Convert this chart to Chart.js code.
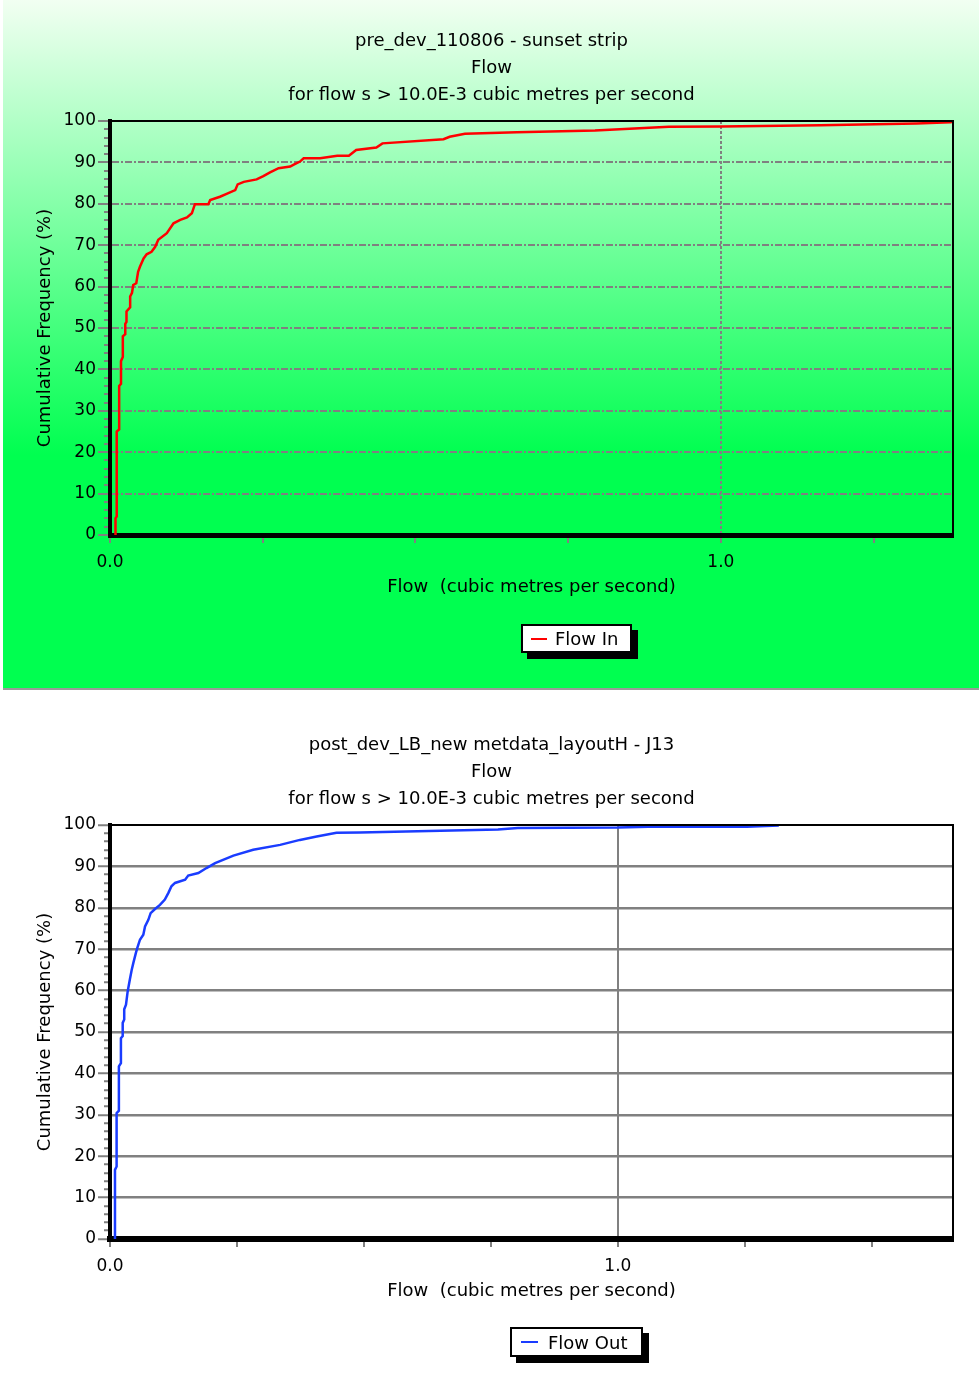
<!DOCTYPE html>
<html>
<head>
<meta charset="utf-8">
<script src="https://cdn.jsdelivr.net/npm/chart.js@4.4.1/dist/chart.umd.min.js"></script>
<style>
  body { margin: 0; width: 979px; height: 1390px; background: #fff; position: relative; overflow: hidden; font-family: 'DejaVu Sans'; }
  #panelIn { position: absolute; left: 3px; top: 0; width: 976px; height: 688px;
    background: linear-gradient(#f2fff2 0px, #00ff50 455px, #00ff50 688px); border-bottom: 2px solid #9a9a9a; }
  canvas { position: absolute; left: 0; }
  .legend { position: absolute; box-sizing: border-box; border: 2px solid #000; background: #fff;
    box-shadow: 6px 6px 0 #000; font-size: 18px; color: #000; display: flex; align-items: center; }
  .swatch { display: block; height: 2px; flex: none; }
</style>
</head>
<body>
<div id="panelIn"></div>
<canvas id="chartIn" width="979" height="688" style="top:0"></canvas>
<canvas id="chartOut" width="979" height="686" style="top:704px"></canvas>

<div class="legend" style="left:521px;top:624px;width:111px;height:29px"><span class="swatch" style="width:16px;background:#ff0000;margin:0 8px 0 8px"></span><span>Flow In</span></div>
<div class="legend" style="left:510px;top:1327px;width:133px;height:30px"><span class="swatch" style="width:17px;background:#1a3cff;margin:0 10px 0 9px"></span><span>Flow Out</span></div>

<script>
// pre development - flow in (cubic metres per second vs cumulative %)
const flowIn = [0.009, 0.009, 0.011, 0.011, 0.015, 0.015, 0.018, 0.018, 0.021, 0.021, 0.025, 0.025,
  0.027, 0.027, 0.033, 0.033, 0.036, 0.038, 0.043, 0.046, 0.049, 0.055, 0.060, 0.068, 0.074, 0.079,
  0.093, 0.104, 0.115, 0.126, 0.134, 0.139, 0.161, 0.164, 0.180, 0.189, 0.205, 0.209, 0.219, 0.240,
  0.251, 0.262, 0.276, 0.295, 0.300, 0.311, 0.317, 0.344, 0.372, 0.391, 0.403, 0.436, 0.446, 0.546,
  0.556, 0.581, 0.666, 0.794, 0.915, 1.0, 1.163, 1.32, 1.376, 1.38];
const freqIn = [0, 4, 4.5, 25, 25.5, 36, 36.5, 42, 43, 48, 48.5, 51,
  51.5, 54, 55, 57.6, 58.5, 60.4, 60.8, 63.6, 64.8, 66.8, 67.8, 68.4, 69.6, 71.3,
  72.9, 75.3, 76.1, 76.7, 77.7, 79.9, 79.9, 80.9, 81.7, 82.3, 83.3, 84.7, 85.3, 85.9,
  86.7, 87.6, 88.6, 89.0, 89.4, 90.2, 91.0, 91.0, 91.6, 91.6, 93.0, 93.6, 94.6, 95.6,
  96.2, 96.9, 97.3, 97.7, 98.6, 98.7, 99.0, 99.4, 99.7, 99.8];

// post development - flow out
const flowOut = [0.0098, 0.0098, 0.013, 0.013, 0.0175, 0.0175, 0.0215, 0.0215, 0.025, 0.025, 0.028, 0.028,
  0.0315, 0.0348, 0.039, 0.0427, 0.046, 0.051, 0.0538, 0.059, 0.0656, 0.069, 0.0755, 0.080, 0.0886,
  0.0984, 0.108, 0.115, 0.121, 0.128, 0.148, 0.154, 0.174, 0.190, 0.207, 0.243, 0.282, 0.335, 0.374,
  0.407, 0.446, 0.492, 0.764, 0.803, 1.0, 1.06, 1.254, 1.317];
const freqOut = [0, 16.7, 17.5, 30.4, 31, 41.7, 42.5, 48.5, 49, 52.2, 53, 55.5,
  56.6, 59.8, 62.6, 65, 66.7, 69.1, 70.3, 72.3, 73.5, 75.5, 77.1, 78.7, 79.7,
  80.7, 82, 83.6, 85.2, 86, 86.8, 87.8, 88.4, 89.6, 90.8, 92.6, 94.0, 95.2, 96.4,
  97.2, 98.1, 98.2, 98.9, 99.3, 99.4, 99.6, 99.6, 99.9];

// axis tick labels (only these get a label)
const xLabelValues = [0, 1];
const xLabelText = ['0.0', '1.0'];
const yLabelValues = [0, 10, 20, 30, 40, 50, 60, 70, 80, 90, 100];

const titlesIn = ['pre_dev_110806 - sunset strip', 'Flow', 'for flow s > 10.0E-3 cubic metres per second'];
const titlesOut = ['post_dev_LB_new metdata_layoutH - J13', 'Flow', 'for flow s > 10.0E-3 cubic metres per second'];

const FONT = "'DejaVu Sans'";
const GREY = '#808080';

// thin black line on top and right of the plot area
const framePlugin = {
  id: 'frame',
  afterDraw(chart) {
    const {ctx, chartArea: a} = chart;
    ctx.save();
    ctx.strokeStyle = '#000';
    ctx.lineWidth = 2;
    ctx.beginPath();
    ctx.moveTo(a.left, a.top);
    ctx.lineTo(a.right, a.top);
    ctx.lineTo(a.right, a.bottom);
    ctx.stroke();
    ctx.restore();
  }
};

function isQuarter(v) {
  return Math.abs(v * 4 - Math.round(v * 4)) < 1e-6;
}

function makeChart(id, flows, freqs, titles, o) {
  const points = flows.map((f, i) => ({x: f, y: freqs[i]}));
  return new Chart(document.getElementById(id), {
    type: 'line',
    data: {
      datasets: [{
        data: points,
        borderColor: o.lineColor,
        borderWidth: 2.5,
        pointRadius: 0,
        tension: 0
      }]
    },
    options: {
      responsive: false,
      animation: false,
      devicePixelRatio: 1,
      layout: {padding: {left: 30, right: 26, top: 27.5, bottom: o.bottomPad}},
      plugins: {
        legend: {display: false},
        tooltip: {enabled: false},
        title: {
          display: true,
          text: titles,
          color: '#000',
          font: {family: FONT, size: 18, weight: 'normal', lineHeight: 1.5},
          padding: {top: 0, bottom: 12.5}
        }
      },
      scales: {
        x: {
          type: 'linear',
          min: 0,
          max: o.xMax,
          afterFit: s => { s.height = 63; },
          ticks: {
            stepSize: 0.25,
            autoSkip: false,
            maxRotation: 0,
            padding: 9,
            color: '#000',
            font: {family: FONT, size: 17},
            callback: v => {
              const k = xLabelValues.findIndex(t => Math.abs(t - v) < 1e-6);
              return k >= 0 ? xLabelText[k] : '';
            }
          },
          grid: {
            color: c => Math.abs(c.tick.value - 1) < 1e-6 ? GREY : 'transparent',
            lineWidth: 2,
            tickLength: 8,
            tickWidth: 2,
            tickColor: c => isQuarter(c.tick.value) ? GREY : 'transparent'
          },
          border: {color: '#000', width: o.xAxisWidth, dash: o.vDash},
          title: {
            display: true,
            text: 'Flow  (cubic metres per second)',
            color: '#000',
            font: {family: FONT, size: 18},
            padding: {top: 0, bottom: 0}
          }
        },
        y: {
          min: 0,
          max: 100,
          afterFit: s => { s.width = 80; },
          ticks: {
            stepSize: 2,
            autoSkip: false,
            padding: 2,
            color: '#000',
            font: {family: FONT, size: 17},
            callback: v => yLabelValues.includes(v) ? v : ''
          },
          grid: {
            color: c => (c.tick.value % 10 === 0 && c.tick.value > 0 && c.tick.value < 100) ? GREY : 'transparent',
            lineWidth: o.hWidth,
            tickLength: 12,
            tickWidth: 2,
            tickColor: GREY,
            tickBorderDash: c => c.tick.value % 10 === 0 ? [] : [0, 6, 4, 20]
          },
          border: {color: '#000', width: 4, dash: o.hDash},
          title: {
            display: true,
            text: 'Cumulative Frequency (%)',
            color: '#000',
            font: {family: FONT, size: 18},
            padding: {top: 5, bottom: 0}
          }
        }
      }
    },
    plugins: [framePlugin]
  });
}

makeChart('chartIn', flowIn, freqIn, titlesIn, {
  lineColor: '#ff0000', xMax: 1.38, bottomPad: 90, xAxisWidth: 5,
  hDash: [7, 2, 2, 2], vDash: [3, 2], hWidth: 2
});

makeChart('chartOut', flowOut, freqOut, titlesOut, {
  lineColor: '#1a3cff', xMax: 1.66, bottomPad: 88, xAxisWidth: 6,
  hDash: [], vDash: [], hWidth: 2.5
});
</script>
</body>
</html>
